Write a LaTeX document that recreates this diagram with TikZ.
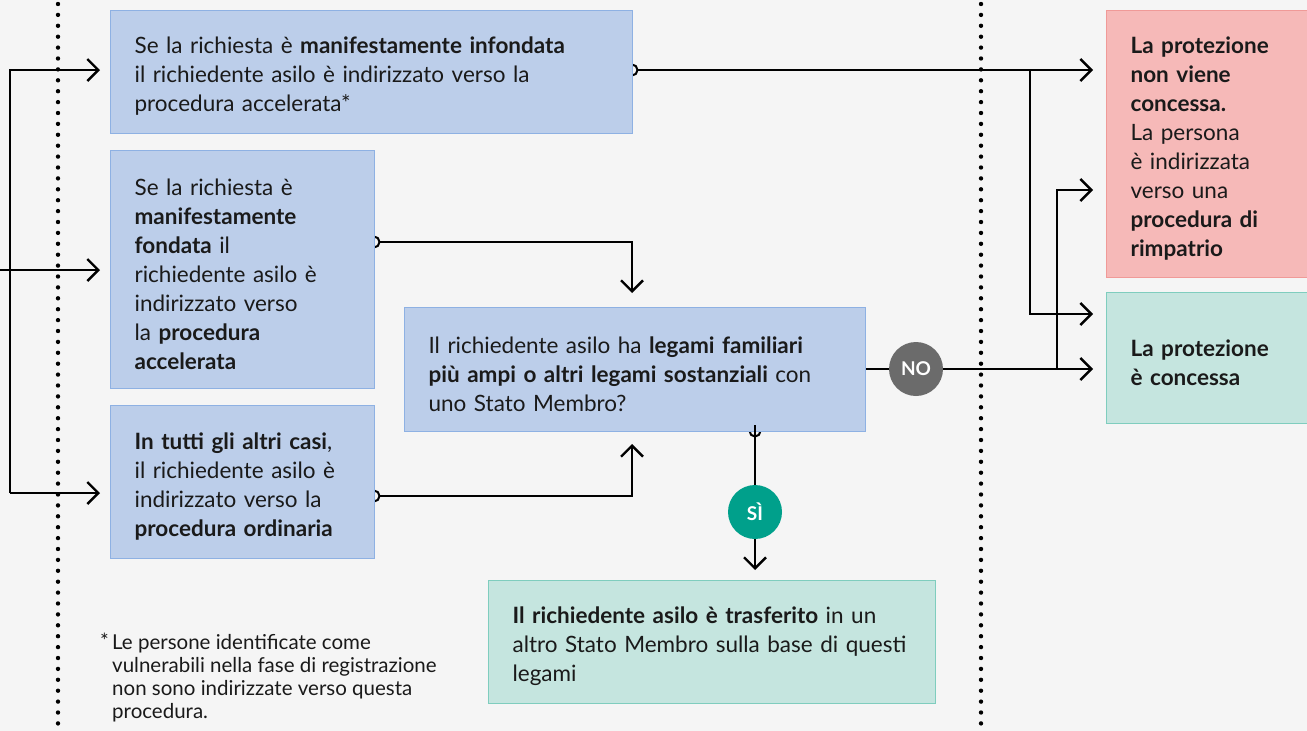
\documentclass[tikz,border=0pt]{standalone}
\usepackage{fontspec}
\setmainfont{Lato}
\usetikzlibrary{arrows.meta}

\definecolor{bgcol}{HTML}{F5F5F5}
\definecolor{bluefill}{HTML}{BCCEEA}
\definecolor{blueline}{HTML}{8EB1E3}
\definecolor{greenfill}{HTML}{C5E5DF}
\definecolor{greenline}{HTML}{7FCDBE}
\definecolor{redfill}{HTML}{F6B9B8}
\definecolor{redline}{HTML}{F09A98}
\definecolor{nocol}{HTML}{6B6B6B}
\definecolor{sicol}{HTML}{00A08B}
\definecolor{txt}{HTML}{1A1A1A}

\pgfdeclarelayer{bottom}
\pgfdeclarelayer{background}
\pgfsetlayers{bottom,background,main}

\tikzset{
  box/.style={draw=#1line, fill=#1fill, line width=1.2pt, align=left,
    inner xsep=24pt, inner ysep=0pt, anchor=north west, text=txt,
    font=\fontsize{22.5}{29}\selectfont,
    execute at begin node={\rule{0pt}{25pt}}},
  flow/.style={line width=2.4pt, -{Straight Barb[length=11pt,width=22pt]},
    shorten >=10pt},
  plain/.style={line width=2.4pt},
  badge/.style={circle, fill=#1, minimum size=54pt, inner sep=0pt,
    text=white, font=\fontsize{19}{19}\selectfont\bfseries},
  fence/.style={line width=4.4pt, line cap=round, dash pattern=on 0pt off 10.9pt},
}

\begin{document}
\begin{tikzpicture}[x=1pt,y=-1pt]
\begin{pgfonlayer}{bottom}
\fill[bgcol] (0,0) rectangle (1307,731);
\end{pgfonlayer}
\useasboundingbox (0,0) rectangle (1307,731);

\draw[fence] (58,4) -- (58,731);
\draw[fence] (981,4) -- (981,731);

\node[box=blue, text width=474pt, minimum height=123pt] (infondata) at (110,10)
  {Se la richiesta è \textbf{manifestamente infondata}\\
   il richiedente asilo è indirizzato verso la\\
   procedura accelerata*};
\node[box=blue, text width=216pt, minimum height=238pt] (fondata) at (110,150)
  {Se la richiesta è\\ \textbf{manifestamente}\\ \textbf{fondata} il\\
   richiedente asilo è\\ indirizzato verso\\ la \textbf{procedura}\\
   \textbf{accelerata}};
\node[box=blue, text width=216pt, minimum height=153pt] (altri) at (110,405)
  {\textbf{In tutti gli altri casi},\\ il richiedente asilo è\\
   indirizzato verso la\\ \textbf{procedura ordinaria}};
\node[box=blue, text width=413pt, minimum height=124pt] (legami) at (404,307)
  {Il richiedente asilo ha \textbf{legami familiari}\\
   \textbf{più ampi o altri legami sostanziali} con\\
   uno Stato Membro?};
\node[box=green, text width=399pt, minimum height=123pt] (trasferito) at (488,580)
  {\textbf{Il richiedente asilo è trasferito} in un\\
   altro Stato Membro sulla base di questi\\ legami};
\node[box=red, text width=182pt, minimum height=267pt] (rimpatrio) at (1106,10)
  {\textbf{La protezione}\\ \textbf{non viene}\\ \textbf{concessa.}\\
   La persona\\ è indirizzata\\ verso una\\ \textbf{procedura di}\\
   \textbf{rimpatrio}};
\node[box=green, text width=182pt, minimum height=131pt] (concessa) at (1106,292)
  {\textbf{La protezione}\\ \textbf{è concessa}};

\node[anchor=north west, align=left, text=txt, inner sep=0pt,
  font=\fontsize{20.5}{23}\selectfont] (nota) at (112,633)
  {\llap{\raisebox{1pt}{*}\,}Le persone identificate come\\
   vulnerabili nella fase di registrazione\\
   non sono indirizzate verso questa\\ procedura.};

\node[badge=nocol] (no) at (916,369) {NO};
\node[badge=sicol] (si) at (755,512) {SÌ};

% start points on the boxes
\coordinate (outA) at (632,70);
\coordinate (outB) at (374,242);
\coordinate (outC) at (374,496);
\coordinate (outD) at (755,431);
\begin{pgfonlayer}{background}
\foreach \p in {outA,outB,outC,outD}
  \draw[line width=2pt] (\p) circle (5.5pt);
\end{pgfonlayer}

% entry on the left
\coordinate (busA) at (10,70);
\coordinate (busC) at (10,493);
\coordinate (inB) at (0,270);
\draw[flow] (busC) -- (busA) -- (busA -| infondata.west);
\draw[flow] (inB) -- (inB -| fondata.west);
\draw[flow] (busC) -- (busC -| altri.west);

% towards the question
\draw[flow, shorten >=14pt] ([xshift=6pt]outB) -| (632,307);
\draw[flow, shorten >=13pt] ([xshift=6pt]outC) -| (632,431);

% outcomes
\coordinate (j1) at (1030,70);
\coordinate (j2) at (1057,369);
\draw[flow, shorten >=13pt] ([xshift=6pt]outA) -- (outA -| rimpatrio.west);
\draw[flow, shorten >=13pt] (j1) |- (1106,314);
\draw[plain] (legami.east |- no) -- (no);
\draw[flow, shorten >=13pt] (no) -- (no -| concessa.west);
\draw[flow, shorten >=13pt] (j2) |- (1106,190);
\draw[plain] ([yshift=6pt]outD) -- (si);
\draw[flow] (si) -- (si |- trasferito.north);
\end{tikzpicture}
\end{document}
